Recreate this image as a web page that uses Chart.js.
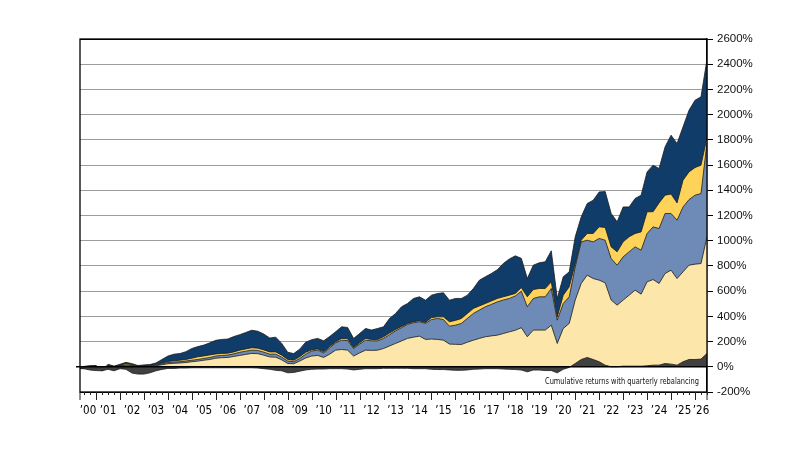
<!DOCTYPE html>
<html><head><meta charset="utf-8">
<script src="https://cdn.jsdelivr.net/npm/chart.js@4/dist/chart.umd.min.js"></script>
<style>html,body{margin:0;padding:0;background:#fff}#wrap{width:798px;height:465px;position:relative}</style>
</head><body><div id="wrap"><canvas id="c"></canvas></div>
<script>
const periods = [
 '2000Q1','2000Q2','2000Q3','2000Q4','2001Q1','2001Q2','2001Q3','2001Q4','2002Q1','2002Q2',
 '2002Q3','2002Q4','2003Q1','2003Q2','2003Q3','2003Q4','2004Q1','2004Q2','2004Q3','2004Q4',
 '2005Q1','2005Q2','2005Q3','2005Q4','2006Q1','2006Q2','2006Q3','2006Q4','2007Q1','2007Q2',
 '2007Q3','2007Q4','2008Q1','2008Q2','2008Q3','2008Q4','2009Q1','2009Q2','2009Q3','2009Q4',
 '2010Q1','2010Q2','2010Q3','2010Q4','2011Q1','2011Q2','2011Q3','2011Q4','2012Q1','2012Q2',
 '2012Q3','2012Q4','2013Q1','2013Q2','2013Q3','2013Q4','2014Q1','2014Q2','2014Q3','2014Q4',
 '2015Q1','2015Q2','2015Q3','2015Q4','2016Q1','2016Q2','2016Q3','2016Q4','2017Q1','2017Q2',
 '2017Q3','2017Q4','2018Q1','2018Q2','2018Q3','2018Q4','2019Q1','2019Q2','2019Q3','2019Q4',
 '2020Q1','2020Q2','2020Q3','2020Q4','2021Q1','2021Q2','2021Q3','2021Q4','2022Q1','2022Q2',
 '2022Q3','2022Q4','2023Q1','2023Q2','2023Q3','2023Q4','2024Q1','2024Q2','2024Q3','2024Q4',
 '2025Q1','2025Q2','2025Q3','2025Q4','2026Q1','2026Q2'];

// cumulative return contributions (%), stacked bottom to top
const darkGray = [
 -13,-15,-26,-30,-32,-20,-32,-15,-20,-50,
 -58,-58,-48,-32,-21,-13,-13,-10,-10,-8,
 -8,-8,-8,-8,-8,-8,-8,-8,-8,-8,
 -10,-15,-20,-28,-32,-48,-45,-35,-25,-20,
 -18,-18,-15,-15,-15,-18,-25,-20,-15,-15,
 -15,-12,-12,-12,-12,-12,-15,-15,-15,-20,
 -22,-22,-25,-28,-28,-25,-20,-18,-15,-15,
 -15,-18,-20,-22,-26,-40,-26,-26,-30,-30,
 -48,-20,-5,26,58,74,58,40,13,0,
 0,5,5,5,5,8,13,13,26,21,
 13,40,58,58,61,106];
const lightGold = [
 0,0,2,2,0,4,1,5,8,6,
 2,3,4,8,16,24,28,30,34,40,
 45,52,58,68,72,74,82,90,98,106,
 104,92,78,76,55,26,24,45,70,85,
 90,74,100,132,137,132,85,110,132,130,
 132,145,165,185,205,225,235,243,217,220,
 217,211,180,178,177,195,211,225,238,245,
 251,264,277,290,310,238,291,291,291,330,
 185,304,344,503,603,653,642,647,653,529,
 489,524,563,603,571,666,679,648,714,745,
 687,713,748,756,758,925];
const steelBlue = [
 0,1,2,2,0,4,1,4,7,6,
 2,3,4,6,8,10,10,10,12,12,
 13,14,16,17,18,19,21,25,26,26,
 26,24,22,24,21,19,16,20,30,40,
 42,36,50,58,74,76,60,70,79,76,
 74,80,90,100,105,111,115,114,127,155,
 166,164,142,152,167,189,212,225,238,250,
 264,266,265,272,290,238,251,264,264,291,
 185,198,211,264,330,277,291,331,338,330,
 317,343,344,343,349,383,418,436,476,450,
 463,515,520,547,555,749];
const gold = [
 0,1,1,2,0,4,1,4,9,6,
 2,3,3,4,6,8,10,12,12,16,
 21,20,20,17,16,15,15,17,18,19,
 18,18,18,18,16,13,12,15,15,10,
 10,9,10,8,14,14,8,10,14,10,
 10,13,13,11,10,8,8,8,8,15,
 13,21,35,38,39,39,40,33,26,27,
 27,25,26,20,28,79,71,66,66,53,
 26,66,79,26,13,53,66,92,101,92,
 106,119,119,106,145,172,120,203,145,154,
 137,212,220,219,225,40];
const navy = [
 0,1,3,4,0,8,2,7,11,7,
 4,6,7,12,28,43,52,53,62,77,
 81,86,96,108,111,112,122,123,130,139,
 134,126,110,117,93,57,53,60,80,80,
 83,87,80,80,92,90,72,74,79,75,
 88,79,115,127,156,158,184,190,176,178,
 185,191,171,174,159,145,158,204,212,218,
 228,265,287,298,232,145,193,204,212,246,
 146,146,119,212,185,238,264,277,285,265,
 238,277,237,278,291,317,369,273,383,467,
 471,423,489,534,542,620];

const yearLabels = ['\u201900','\u201901','\u201902','\u201903','\u201904','\u201905','\u201906','\u201907','\u201908','\u201909',
 '\u201910','\u201911','\u201912','\u201913','\u201914','\u201915','\u201916','\u201917','\u201918','\u201919',
 '\u201920','\u201921','\u201922','\u201923','\u201924','\u201925','\u201926'];
const firstYear = 2000;
const yTickStep = 200;
const note = 'Cumulative returns with quarterly rebalancing';

function periodValue(p){ return +p.slice(0,4) + (+p.slice(5)) * 0.25; }
function series(arr){ return periods.map((p,i)=>({x: periodValue(p), y: arr[i]})); }

const COND = '"DejaVu Sans Condensed","Liberation Sans Narrow","Liberation Sans",sans-serif';
const lineCol = '#1c1c1c';
function ds(label, arr, color){
  return {label, data: series(arr), backgroundColor: color, borderColor: lineCol, borderWidth: 0.8,
          fill: 'origin', pointRadius: 0, tension: 0};
}

const framePlugin = {
  id: 'frame',
  afterDatasetsDraw(chart){
    const {ctx, chartArea: a, scales: {x, y}} = chart;
    ctx.save();
    const y0 = y.getPixelForValue(0);
    ctx.strokeStyle = '#000';
    ctx.lineWidth = 1.6;
    ctx.beginPath(); ctx.moveTo(a.left - 4, y0); ctx.lineTo(a.right, y0); ctx.stroke();
    ctx.lineWidth = 1.3;
    ctx.strokeRect(a.left, a.top, a.right - a.left, a.bottom - a.top);
    ctx.lineWidth = 1;
    ctx.strokeStyle = '#222';
    periods.forEach(p => {
      const t = periodValue(p);
      if (t < x.min || t > x.max) return;
      const px = Math.round(x.getPixelForValue(t)) + 0.5;
      const major = p.endsWith('Q4');
      ctx.beginPath(); ctx.moveTo(px, a.bottom); ctx.lineTo(px, a.bottom + (major ? 8 : 3)); ctx.stroke();
    });
    [a.left, a.right].forEach(px => {
      ctx.beginPath(); ctx.moveTo(px, a.bottom); ctx.lineTo(px, a.bottom + 8); ctx.stroke();
    });
    ctx.fillStyle = '#111';
    ctx.font = '9px ' + COND;
    const w = ctx.measureText(note).width;
    const target = 154;
    ctx.translate(a.right - 8 - target, y0 + 17);
    ctx.scale(target / w, 1);
    ctx.textBaseline = 'alphabetic';
    ctx.fillText(note, 0, 0);
    ctx.restore();
  }
};

new Chart(document.getElementById('c'), {
  type: 'line',
  data: { datasets: [
    ds('Dark gray', darkGray, '#404040'),
    ds('Light gold', lightGold, '#fde6a9'),
    ds('Steel blue', steelBlue, '#6e8ab6'),
    ds('Gold', gold, '#ffd25a'),
    ds('Navy', navy, '#0f3c68')
  ]},
  options: {
    responsive: true, maintainAspectRatio: false, animation: false,
    layout: { padding: { left: 80, top: 39, right: 0, bottom: 0 } },
    plugins: { legend: { display: false }, tooltip: { enabled: false } },
    scales: {
      x: {
        type: 'linear', min: 2000.33, max: 2026.5,
        grid: { display: false, drawTicks: false },
        border: { display: false },
        afterBuildTicks(scale){
          scale.ticks = yearLabels.map((_, i) => {
            const y = firstYear + i;
            return { value: (Math.max(y, scale.min) + Math.min(y + 1, scale.max)) / 2 };
          });
        },
        afterFit(scale){ scale.height = 73; },
        ticks: { autoSkip: false, maxRotation: 0, minRotation: 0, padding: 12, color: '#000',
                 font: { family: COND, size: 11.5 },
                 callback: (v, i) => yearLabels[i] }
      },
      y: {
        position: 'right', stacked: true, min: -200, max: 2600,
        afterFit(scale){ scale.width = 91; },
        ticks: { stepSize: yTickStep, padding: 4, color: '#111',
                 font: { family: '"Liberation Sans",Arial,sans-serif', size: 11.5 },
                 callback: v => v + '%' },
        grid: {
          color: c => (c.tick.value === 0 ? 'rgba(0,0,0,0)' : (c.tick.value === 2600 || c.tick.value === -200) ? '#000' : '#9c9c9c'),
          lineWidth: 1, tickLength: 6, tickColor: '#000'
        },
        border: { display: true, color: '#000', width: 1.3 }
      }
    }
  },
  plugins: [framePlugin]
});
</script>
</body></html>
